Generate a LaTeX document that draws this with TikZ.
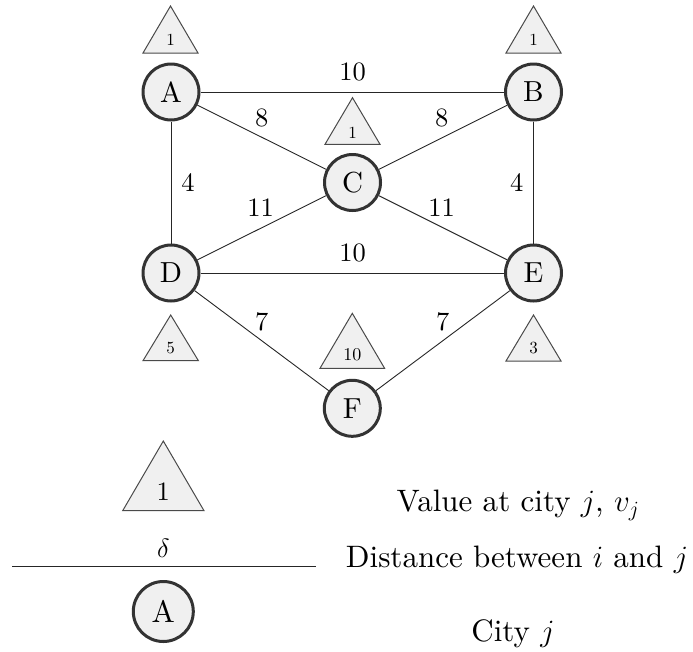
\RequirePackage{fix-cm}
\documentclass[tikz,border=0pt]{standalone}
\usepackage{fontspec}
\setmainfont{lmroman10-regular.otf}[ItalicFont=lmroman10-italic.otf, BoldFont=lmroman10-bold.otf]
\definecolor{nodefill}{HTML}{F0F0F0}
\definecolor{nodedraw}{HTML}{333333}
\definecolor{tridraw}{HTML}{4A4A4A}
\tikzset{
  city/.style={circle, draw=nodedraw, fill=nodefill, line width=3pt, minimum size=56pt, inner sep=0pt, font=\fontsize{29}{31}\selectfont},
  edge/.style={line width=0.9pt, draw=black!85},
  elab/.style={font=\fontsize{26.5}{30}\selectfont, inner sep=0pt},
  tri/.style={draw=tridraw, fill=nodefill, line width=1pt, line join=miter},
  vsmall/.style={font=\fontsize{17}{20}\selectfont, inner sep=0pt},
  legtext/.style={font=\fontsize{31}{34}\selectfont, inner sep=0pt, anchor=base},
}
\begin{document}
\begin{tikzpicture}[x=1pt, y=-1pt]
\useasboundingbox (0,0) rectangle (693,651);
% value triangles
\draw[tri] (143,53) -- (170.5,6) -- (198,53) -- cycle;
\node[vsmall] (vA) at (170.5,40) {1};
\draw[tri] (506,53) -- (533.5,6) -- (561,53) -- cycle;
\node[vsmall] (vB) at (533.5,40) {1};
\draw[tri] (325,144.3) -- (352.5,97.7) -- (380,144.3) -- cycle;
\node[vsmall] (vC) at (352.5,132.5) {1};
\draw[tri] (143,360.7) -- (170.7,315) -- (198.4,360.7) -- cycle;
\node[vsmall] (vD) at (170.7,348) {5};
\draw[tri] (506,361) -- (533.5,315) -- (561,361) -- cycle;
\node[vsmall] (vE) at (533.5,348) {3};
\draw[tri] (320,368.3) -- (352.3,313.3) -- (384.6,368.3) -- cycle;
\node[vsmall, font=\fontsize{18}{20}\selectfont] (vF) at (352.3,355) {10};
% cities
\node[city] (A) at (171,92) {A};
\node[city] (B) at (533.5,92) {B};
\node[city] (C) at (352.5,182.5) {C};
\node[city] (D) at (171,273) {D};
\node[city] (E) at (533.5,273) {E};
\node[city] (F) at (352.3,408.3) {F};
% roads
\draw[edge] (A) -- (B);
\draw[edge] (A) -- (C);
\draw[edge] (A) -- (D);
\draw[edge] (B) -- (C);
\draw[edge] (B) -- (E);
\draw[edge] (C) -- (D);
\draw[edge] (C) -- (E);
\draw[edge] (D) -- (E);
\draw[edge] (D) -- (F);
\draw[edge] (E) -- (F);
% distances
\node[elab] (dAB) at (352.7,71.7) {10};
\node[elab] (dAC) at (261.7,118) {8};
\node[elab] (dBC) at (441.7,118) {8};
\node[elab] (dAD) at (188,183) {4};
\node[elab] (dBE) at (516.7,183) {4};
\node[elab] (dCD) at (260.7,207.5) {11};
\node[elab] (dCE) at (441.7,208) {11};
\node[elab] (dDE) at (352.5,253) {10};
\node[elab] (dDF) at (261.7,321.7) {7};
\node[elab] (dEF) at (442.7,321.7) {7};
% legend
\draw[tri] (122.7,510.7) -- (163.3,441) -- (204,510.7) -- cycle;
\node[elab] (lv) at (163.3,491.7) {1};
\node[elab] (ld) at (163.3,548) {$\delta$};
\coordinate (l1) at (12,566.5);
\coordinate (l2) at (316,566.5);
\draw[edge] (l1) -- (l2);
\node[city, minimum size=60pt, font=\fontsize{31}{33}\selectfont] (lc) at (163.3,611.5) {A};
\node[legtext] (tv) at (518,511.7) {Value at city $j$, $v_j$};
\node[legtext] (td) at (517,567.5) {Distance between $i$ and $j$};
\node[legtext] (tc) at (513,641.7) {City $j$};
\end{tikzpicture}
\end{document}
